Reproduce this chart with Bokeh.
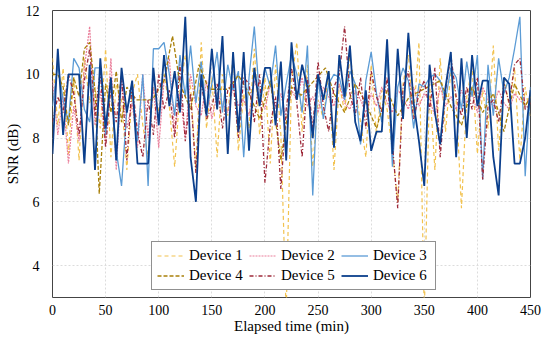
from bokeh.plotting import figure
from bokeh.models import Range1d, FixedTicker, Legend, LegendItem
from bokeh.embed import file_html
from bokeh.resources import INLINE

# ---------------- data ----------------
t5 = list(range(0, 451, 5))

device1 = [10.5, 8.4, 10.2, 7.5, 9.9, 7.3, 10.5, 9.1, 9.6, 8.3, 10.8, 7.4, 9.7, 9.2, 7.0, 9.4, 10.0, 8.4, 7.4,
           9.6, 8.8, 10.0, 9.0, 7.1, 9.5, 10.6, 9.6, 7.0, 11.0, 8.3, 9.9, 7.4, 10.0, 8.7, 10.6, 7.6, 9.4, 8.3,
           10.8, 8.1, 9.9, 7.2, 10.3, 8.1, 2.5, 9.8, 11.0, 8.2, 10.3, 7.1, 9.2, 8.6, 10.1, 7.0, 9.7, 8.8, 10.6,
           9.5, 8.5, 7.4, 10.3, 8.1, 9.5, 8.9, 7.6, 6.0, 9.7, 10.6, 8.7, 11.0, 2.5, 9.7, 7.0, 10.5, 8.2, 10.1,
           9.2, 5.8, 9.3, 10.2, 7.5, 9.5, 8.3, 10.9, 7.6, 9.9, 9.0, 10.2, 7.3, 9.6, 8.6]

device2 = [9.8, 8.1, 9.3, 7.2, 9.0, 7.9, 10.2, 11.5, 8.4, 9.5, 7.8, 10.5, 7.0, 9.8, 8.3, 9.1, 7.7, 10.0, 8.0,
           9.6, 7.7, 9.8, 10.5, 8.2, 9.4, 8.0, 10.0, 9.0, 8.7, 9.8, 8.6, 9.4, 9.1, 8.8, 9.6, 9.0, 9.2, 8.7,
           9.8, 9.3, 8.9, 9.7, 9.0, 9.4, 8.6, 9.5, 9.2, 9.9, 9.0, 9.3, 8.8, 9.6, 9.3, 9.0, 9.7, 9.1, 8.9,
           9.5, 9.2, 8.8, 9.4, 9.0, 9.6, 9.1, 8.8, 9.5, 9.3, 8.9, 9.6, 9.0, 9.4, 9.2, 8.7, 9.6, 9.0, 9.3,
           8.9, 9.5, 9.1, 9.4, 8.8, 9.6, 9.2, 9.0, 9.5, 9.1, 8.9, 9.4, 9.2, 9.0, 9.3]

device3 = [9.0, 10.3, 9.2, 8.5, 10.5, 10.2, 8.9, 8.5, 10.2, 10.2, 8.1, 9.8, 7.6, 6.5, 8.9, 9.5, 7.9, 10.0, 6.5,
           10.8, 10.8, 11.0, 10.0, 8.7, 10.6, 9.3, 10.9, 9.1, 10.4, 8.8, 9.7, 10.7, 8.8, 10.3, 9.5, 10.1, 7.4,
           9.9, 11.5, 9.2, 10.2, 9.6, 10.9, 8.7, 9.7, 10.6, 10.0, 8.8, 10.9, 6.2, 9.9, 8.6, 9.7, 10.0, 9.9,
           9.2, 10.1, 9.7, 7.8, 9.8, 10.7, 9.4, 8.5, 10.6, 7.1, 9.6, 10.2, 9.8, 8.3, 9.7, 9.6, 9.9, 10.0, 9.8,
           9.2, 10.2, 9.9, 8.9, 10.4, 9.3, 10.6, 6.7, 10.3, 8.7, 10.5, 9.4, 9.9, 10.8, 11.8, 6.8, 9.6]

device4_t = [0, 5, 10, 15, 20, 25, 30, 35, 40, 44, 50, 55, 60, 65, 70, 79, 94, 105, 113, 120, 130, 138, 147,
             166, 175, 185, 195, 205, 215, 225, 234, 257, 265, 275, 285, 295, 305, 315, 325, 336, 365, 375,
             385, 395, 405, 415, 425, 435, 445, 450]
device4 = [10.0, 10.0, 9.6, 8.4, 9.9, 9.3, 10.8, 11.0, 9.5, 6.25, 9.7, 8.8, 10.1, 8.5, 9.6, 9.2, 9.2, 9.8,
           11.2, 9.7, 8.9, 10.3, 9.53, 9.53, 9.97, 9.4, 8.6, 9.8, 7.3, 9.6, 9.34, 10.2, 9.4, 8.8, 9.7, 9.1,
           8.3, 9.5, 8.7, 9.3, 9.8, 9.0, 8.4, 9.6, 8.8, 9.4, 8.2, 9.7, 9.0, 9.3]

device5 = [8.5, 9.3, 8.8, 10.0, 9.4, 8.1, 9.8, 10.8, 8.7, 10.1, 7.7, 9.6, 8.5, 10.0, 7.3, 9.7, 8.2, 7.4, 9.2,
           8.1, 10.0, 8.9, 9.5, 8.0, 10.3, 7.9, 9.4, 6.9, 9.8, 8.6, 9.0, 9.7, 8.3, 9.5, 9.8, 8.0, 9.9, 9.7,
           8.5, 10.0, 6.6, 8.4, 9.3, 6.4, 8.9, 10.2, 9.1, 7.4, 9.9, 8.3, 10.4, 9.0, 8.2, 9.6, 10.0, 11.5, 9.4,
           8.7, 9.9, 8.3, 10.1, 9.3, 8.8, 9.9, 7.8, 5.8, 9.6, 10.1, 8.6, 9.4, 9.8, 8.9, 10.2, 7.4, 9.5, 10.6,
           9.3, 8.7, 9.6, 8.9, 9.9, 6.7, 9.0, 9.2, 8.5, 9.7, 9.1, 10.3, 10.5, 8.9, 9.1]

device6 = [7.5, 10.8, 8.1, 10.0, 10.0, 10.0, 7.2, 10.3, 7.0, 10.5, 8.3, 9.9, 7.3, 10.2, 8.8, 9.8, 7.2, 7.2, 7.2,
           10.2, 8.4, 10.6, 9.0, 10.1, 8.8, 11.8, 7.4, 6.0, 10.0, 8.7, 10.8, 8.9, 11.2, 7.5, 10.7, 8.2, 10.7,
           7.6, 10.2, 9.0, 10.2, 10.2, 8.4, 10.4, 7.3, 11.0, 9.2, 10.3, 9.6, 8.0, 10.0, 9.2, 10.1, 7.7, 10.6,
           9.3, 10.9, 8.5, 7.9, 9.5, 7.6, 8.2, 8.2, 11.1, 7.5, 10.8, 8.6, 11.3, 9.1, 7.9, 6.5, 10.3, 8.8, 7.8,
           9.6, 10.7, 7.4, 10.5, 8.0, 10.6, 9.0, 9.8, 9.8, 7.4, 6.2, 9.9, 9.7, 7.2, 7.2, 8.0, 9.5]

labels = ["Device 1", "Device 2", "Device 3", "Device 4", "Device 5", "Device 6"]
x_ticks = [0, 50, 100, 150, 200, 250, 300, 350, 400, 450]
y_ticks = [4, 6, 8, 10, 12]
x_title = "Elapsed time (min)"
y_title = "SNR (dB)"

# ---------------- figure ----------------
W, H = 542, 337
FONT = "Liberation Serif"

p = figure(width=W, height=H, output_backend="svg", toolbar_location=None,
           x_range=Range1d(0, 450), y_range=Range1d(3, 12),
           min_border_left=52, min_border_right=12, min_border_top=10, min_border_bottom=40)
p.background_fill_color = "white"
p.border_fill_color = "white"
p.outline_line_color = "#444444"
p.outline_line_width = 1

for ax in (p.xaxis[0], p.yaxis[0]):
    ax.axis_line_color = None
    ax.major_tick_line_color = None
    ax.minor_tick_line_color = None
    ax.major_label_text_font = FONT
    ax.major_label_text_font_size = "14px"
    ax.major_label_text_color = "black"
    ax.axis_label_text_font = FONT
    ax.axis_label_text_font_size = "15px"
    ax.axis_label_text_font_style = "normal"
    ax.axis_label_text_color = "black"
p.xaxis.ticker = FixedTicker(ticks=x_ticks)
p.yaxis.ticker = FixedTicker(ticks=y_ticks)
p.xaxis.major_label_standoff = 1
p.yaxis.major_label_standoff = 7
p.xaxis.axis_label = x_title
p.yaxis.axis_label = y_title
p.xaxis.axis_label_standoff = 0
p.yaxis.axis_label_standoff = 2

for g in (p.xgrid[0], p.ygrid[0]):
    g.grid_line_color = "#dcdcdc"
    g.grid_line_dash = "2 2"
    g.grid_line_width = 1
p.xgrid.ticker = FixedTicker(ticks=x_ticks)
p.ygrid.ticker = FixedTicker(ticks=y_ticks)

styles = [
    dict(color="#F2C24F", dash="4 3", width=1.2),
    dict(color="#EA7F9B", dash="2 1", width=1.2),
    dict(color="#5B9BD5", dash="solid", width=1.3),
    dict(color="#A9800A", dash="4 2", width=1.3),
    dict(color="#9E2A3A", dash="4 2 1 2", width=1.3),
    dict(color="#0B3F8C", dash="solid", width=1.8),
]
series = [(t5, device1), (t5, device2), (t5, device3), (device4_t, device4), (t5, device5), (t5, device6)]

items = []
for (xs, ys), st, lab in zip(series, styles, labels):
    r = p.line(xs, ys, line_color=st["color"], line_dash=st["dash"], line_width=st["width"])
    items.append(LegendItem(label=lab, renderers=[r]))

legend = Legend(items=items, orientation="horizontal", ncols=3, location=(99, 7),
                margin=0, padding=5, spacing=3, glyph_width=27, glyph_height=17,
                label_standoff=5, label_width=57, label_height=17,
                label_text_font=FONT, label_text_font_size="15px", label_text_color="black",
                border_line_color="#222222", border_line_width=1,
                background_fill_color="white", background_fill_alpha=1.0)
p.add_layout(legend, "center")

open("out.html", "w").write(file_html(p, INLINE))
